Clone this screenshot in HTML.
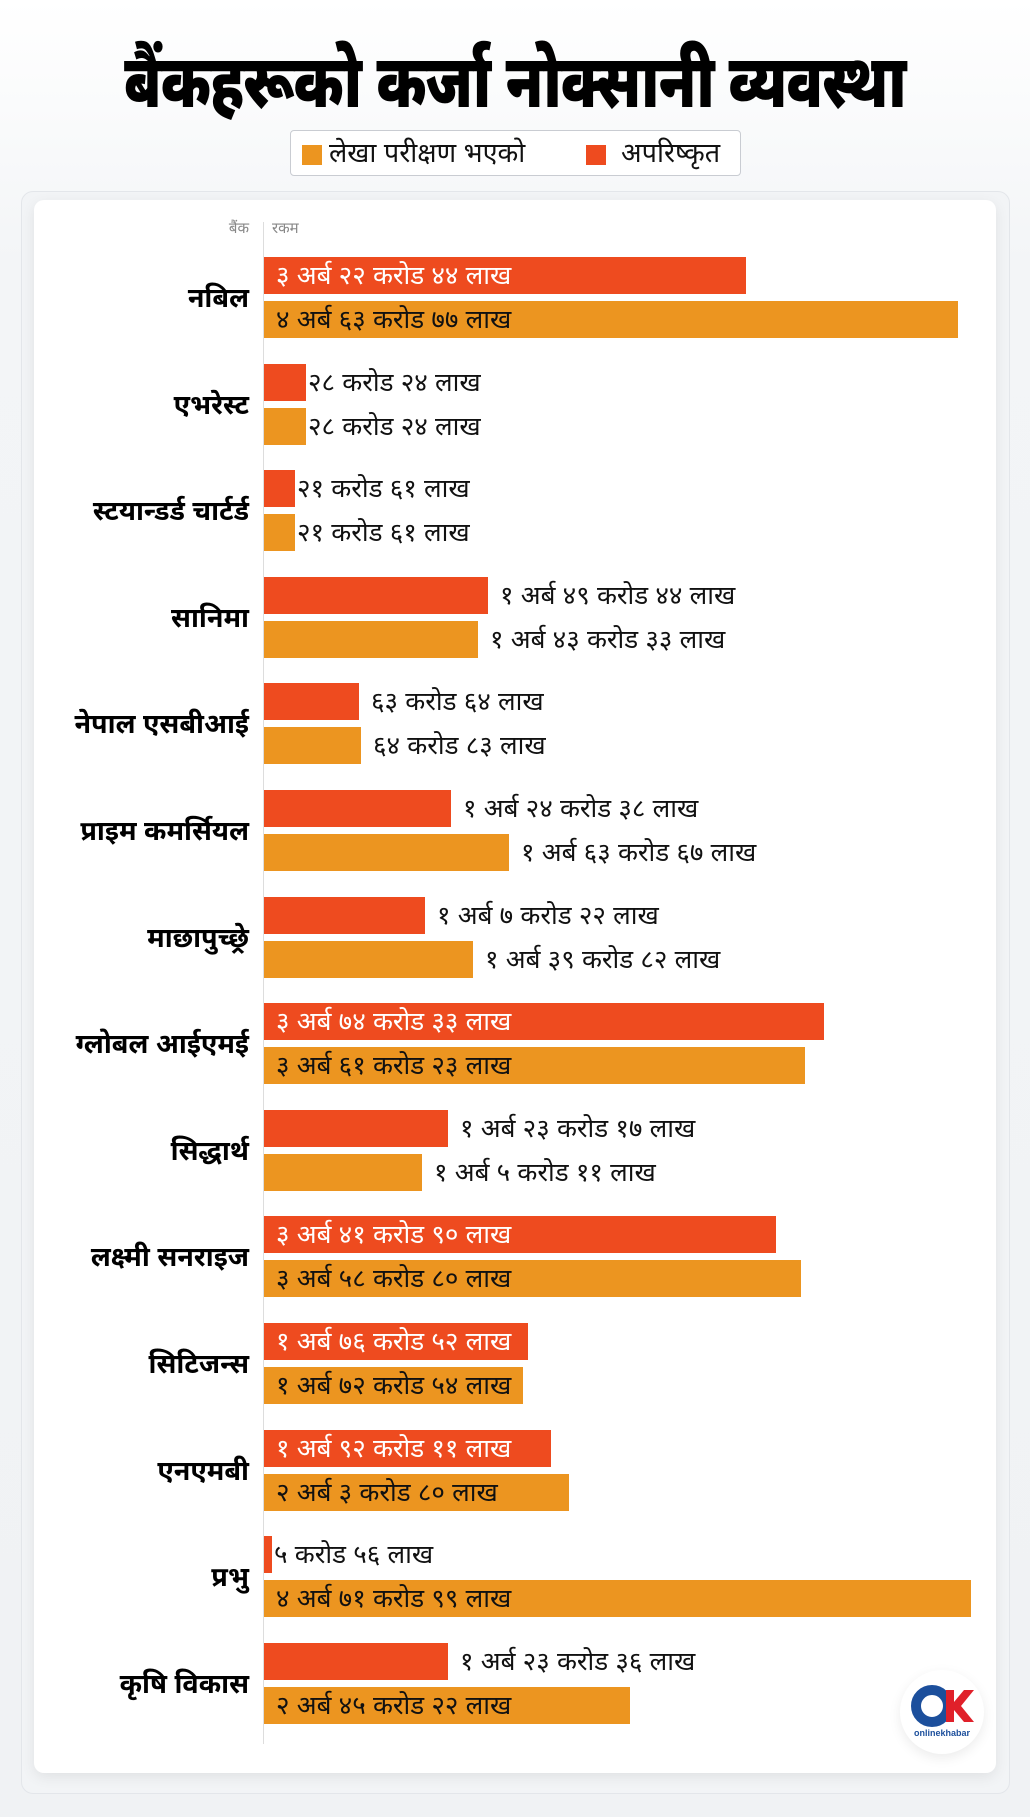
<!DOCTYPE html>
<html><head><meta charset="utf-8"><style>
*{margin:0;padding:0;box-sizing:border-box}
body{width:1030px;height:1817px;background:linear-gradient(#fff 0,#f3f5f7 260px,#f0f2f4 100%);font-family:"Liberation Sans","Noto Sans Devanagari","Lohit Devanagari",sans-serif;position:relative;overflow:hidden}
.title{position:absolute;top:32px;left:0;width:1030px;text-align:center;font-size:74px;font-weight:900;color:#000;line-height:100px;letter-spacing:-1px;transform:scaleX(0.78);transform-origin:515px 0}
.legend{position:absolute;left:290px;top:130px;width:451px;height:46px;border:1px solid #c9ccd2;border-radius:4px;background:#fff;font-size:27px;line-height:44px;color:#111}
.sw{position:absolute;top:14px;width:20px;height:20px}
.outer{position:absolute;left:21px;top:191px;width:989px;height:1603px;border:1px solid #e3e6ea;border-radius:12px;background:#f2f4f6}
.card{position:absolute;left:34px;top:200px;width:962px;height:1573px;background:#fff;border-radius:10px;box-shadow:0 4px 14px rgba(0,0,0,.08)}
.axis{position:absolute;left:263px;top:222px;width:1px;height:1522px;background:#ddd}
.hdr{position:absolute;top:220px;font-size:15px;color:#888}
.bar{position:absolute;left:264px;height:37px;font-size:26px;line-height:37px;white-space:nowrap}
.r{background:#EE4B1F}.o{background:#EC9520}
.in{padding-left:12px}
.r.in{color:#fff}.o.in{color:#111}
.lbl{position:absolute;font-size:26px;line-height:37px;color:#111;white-space:nowrap}
.name{position:absolute;right:781px;font-size:27px;font-weight:bold;color:#000;text-align:right;white-space:nowrap;line-height:40px}
.logo{position:absolute;left:900px;top:1670px;width:84px;height:84px;border-radius:50%;background:#fff;box-shadow:0 4px 12px rgba(0,0,0,.08)}
</style></head><body>
<div class="title">बैंकहरूको कर्जा नोक्सानी व्यवस्था</div>
<div class="legend"><div class="sw o" style="left:11px"></div><span style="position:absolute;left:38px">लेखा परीक्षण भएको</span><div class="sw r" style="left:295px"></div><span style="position:absolute;left:330px">अपरिष्कृत</span></div>
<div class="outer"></div>
<div class="card"></div>
<div class="axis"></div>
<div class="hdr" style="right:781px">बैंक</div>
<div class="hdr" style="left:272px">रकम</div>
<div id="c"></div>
<div class="logo"><svg width="84" height="84" viewBox="0 0 84 84"><circle cx="32" cy="36" r="16" fill="none" stroke="#1c4f9c" stroke-width="10"/><path d="M46 20h8v12l10-12h10l-13 16 13 16h-10l-10-12v12h-8z" fill="#e0202a"/><text x="42" y="66" font-size="9" text-anchor="middle" fill="#1c4f9c" font-family="Liberation Sans" font-weight="bold">onlinekhabar</text></svg></div>
<script>
var d=[
["नबिल",746,"३ अर्ब २२ करोड ४४ लाख",958,"४ अर्ब ६३ करोड ७७ लाख",1,1],
["एभरेस्ट",306,"२८ करोड २४ लाख",306,"२८ करोड २४ लाख",0,0],
["स्टयान्डर्ड चार्टर्ड",295,"२१ करोड ६१ लाख",295,"२१ करोड ६१ लाख",0,0],
["सानिमा",488,"१ अर्ब ४९ करोड ४४ लाख",478,"१ अर्ब ४३ करोड ३३ लाख",0,0],
["नेपाल एसबीआई",359,"६३ करोड ६४ लाख",361,"६४ करोड ८३ लाख",0,0],
["प्राइम कमर्सियल",451,"१ अर्ब २४ करोड ३८ लाख",509,"१ अर्ब ६३ करोड ६७ लाख",0,0],
["माछापुच्छ्रे",425,"१ अर्ब ७ करोड २२ लाख",473,"१ अर्ब ३९ करोड ८२ लाख",0,0],
["ग्लोबल आईएमई",824,"३ अर्ब ७४ करोड ३३ लाख",805,"३ अर्ब ६१ करोड २३ लाख",1,1],
["सिद्धार्थ",448,"१ अर्ब २३ करोड १७ लाख",422,"१ अर्ब ५ करोड ११ लाख",0,0],
["लक्ष्मी सनराइज",776,"३ अर्ब ४१ करोड ९० लाख",801,"३ अर्ब ५८ करोड ८० लाख",1,1],
["सिटिजन्स",528,"१ अर्ब ७६ करोड ५२ लाख",523,"१ अर्ब ७२ करोड ५४ लाख",1,1],
["एनएमबी",551,"१ अर्ब ९२ करोड ११ लाख",569,"२ अर्ब ३ करोड ८० लाख",1,1],
["प्रभु",272,"५ करोड ५६ लाख",971,"४ अर्ब ७१ करोड ९९ लाख",0,1],
["कृषि विकास",448,"१ अर्ब २३ करोड ३६ लाख",630,"२ अर्ब ४५ करोड २२ लाख",0,1]];
var h="";
d.forEach(function(g,i){var y=Math.round(257+i*106.6);
h+='<div class="name" style="top:'+(y+21)+'px">'+g[0]+'</div>';
[[g[1],g[2],g[5],'r',y],[g[3],g[4],g[6],'o',y+44]].forEach(function(b){
if(b[2]) h+='<div class="bar '+b[3]+' in" style="top:'+b[4]+'px;width:'+(b[0]-264)+'px">'+b[1]+'</div>';
else {h+='<div class="bar '+b[3]+'" style="top:'+b[4]+'px;width:'+(b[0]-264)+'px"></div>';
h+='<div class="lbl" style="top:'+b[4]+'px;left:'+(b[0]+(b[0]<320?2:12))+'px">'+b[1]+'</div>';}
});});
document.getElementById('c').innerHTML=h;
</script>
</body></html>
